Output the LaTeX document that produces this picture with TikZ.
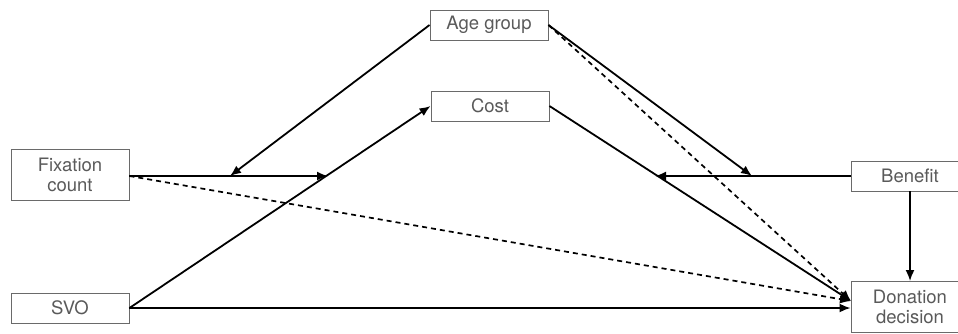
\documentclass[tikz,border=0pt]{standalone}
\usepackage{fontspec}
\setmainfont{TeX Gyre Heros}
\usetikzlibrary{arrows.meta}

\definecolor{boxgray}{HTML}{6A6A6A}
\definecolor{textgray}{HTML}{5A5A5A}

\begin{document}
\begin{tikzpicture}[x=1pt,y=-1pt,
var/.style = {rectangle, draw=boxgray, line width=0.9pt, fill=white, minimum width=118pt,
              minimum height=30pt, align=center, text=textgray, inner sep=1pt,
              font=\fontsize{18.5}{20.5}\selectfont},
tall/.style = {var, minimum height=51pt},
line/.style = {draw, line width=1.8pt, -{Latex[length=11pt,width=9pt]}},
dline/.style = {draw, line width=1.7pt, dash pattern=on 5pt off 4pt,
                -{Latex[length=11pt,width=9pt]}}]

\useasboundingbox (0,0) rectangle (958,333);

% variables
\node [var] (age) at (489,25) {Age group};
\node [var] (cost) at (490,106) {Cost};
\node [tall] (fix) at (70,175) {Fixation\\count};
\node [var] (svo) at (70,308) {SVO};
\node [var] (benefit) at (910,176) {Benefit};
\node [tall] (donation) at (910,307) {Donation\\decision};

% moderation targets
\coordinate (fixtip) at (328,176);
\coordinate (agetip1) at (230,176);
\coordinate (benefittip) at (655,176);
\coordinate (agetip2) at (752,176);
\coordinate (target) at (851,301);

% paths
\path [line] (svo.east) -- (cost.west);
\path [line] (svo.east) -- (donation.west |- svo.east);
\path [line] (cost.east) -- (target);
\path [line] (benefit.south) -- (donation.north);

\path [line] (fix.east |- fixtip) -- (fixtip);
\path [line] (age.west) -- (agetip1);
\path [line] (benefit.west) -- (benefittip);
\path [line] (age.east) -- (agetip2);

\path [dline] (fix.east |- fixtip) -- (target);
\path [dline] (age.east) -- (target);
\end{tikzpicture}
\end{document}
